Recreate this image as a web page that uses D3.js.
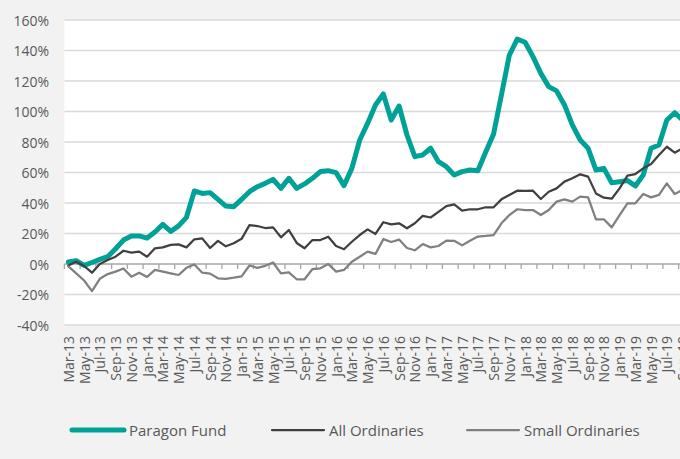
<!DOCTYPE html>
<html lang="en">
<head>
<meta charset="utf-8">
<title>Paragon Fund vs indices</title>
<script src="https://d3js.org/d3.v7.min.js"></script>
<style>
  body { margin: 0; background: #f2f2f2; }
  svg { display: block; font-family: "Open Sans", sans-serif; }
</style>
</head>
<body>
<div id="chart"></div>
<script>
// categories (monthly, Mar-13 .. Sep-19)
var months = [
  "Mar-13","Apr-13","May-13","Jun-13","Jul-13","Aug-13","Sep-13","Oct-13","Nov-13","Dec-13",
  "Jan-14","Feb-14","Mar-14","Apr-14","May-14","Jun-14","Jul-14","Aug-14","Sep-14","Oct-14","Nov-14","Dec-14",
  "Jan-15","Feb-15","Mar-15","Apr-15","May-15","Jun-15","Jul-15","Aug-15","Sep-15","Oct-15","Nov-15","Dec-15",
  "Jan-16","Feb-16","Mar-16","Apr-16","May-16","Jun-16","Jul-16","Aug-16","Sep-16","Oct-16","Nov-16","Dec-16",
  "Jan-17","Feb-17","Mar-17","Apr-17","May-17","Jun-17","Jul-17","Aug-17","Sep-17","Oct-17","Nov-17","Dec-17",
  "Jan-18","Feb-18","Mar-18","Apr-18","May-18","Jun-18","Jul-18","Aug-18","Sep-18","Oct-18","Nov-18","Dec-18",
  "Jan-19","Feb-19","Mar-19","Apr-19","May-19","Jun-19","Jul-19","Aug-19","Sep-19"
];

// cumulative return, %
var paragon = [
  1.3, 2.2, -0.9, 1, 3, 4.8, 10, 15.7, 18.4, 18.4,
  17, 21, 26, 21.4, 25, 30.6, 47.9, 46.3, 46.8, 42.4, 38, 37.6,
  42.4, 47.4, 50.7, 52.9, 55.5, 49.6, 56.2, 49.6, 52.5, 56.2, 60.6, 61.2,
  59.9, 51.4, 62.7, 81.3, 92.2, 104.3, 111.5, 94.4, 103.6, 84.6, 70.4, 71.5,
  75.9, 67.1, 63.8, 58.4, 60.6, 61.6, 61.2, 73.5, 85.3, 111, 137, 147.5,
  145.4, 136, 125, 116.3, 113.5, 104.3, 91.2, 81.3, 75.9, 61.6, 62.7, 53.3,
  54, 54.7, 51.2, 58.4, 75.9, 78, 94.4, 99.2, 94.4
];
var allOrds = [
  -1, 1.5, -1.3, -5.7, 0, 2.6, 4.8, 8.7, 7.4, 8.1,
  4.8, 10.3, 10.9, 12.5, 12.9, 10.9, 16.2, 16.8, 10.5, 15.2, 11.6, 13.6,
  16.5, 25.5, 24.9, 23.6, 24, 17.5, 22.3, 13.8, 10.3, 15.7, 15.7, 17.9,
  11.8, 9.7, 14.6, 19, 22.7, 19.7, 27.4, 26, 26.7, 23.4, 26.7, 31.6,
  30.5, 34.2, 38, 39.1, 35, 35.9, 35.9, 37.2, 37.2, 42.4, 45.3, 48.1,
  47.9, 48.1, 42.6, 47.4, 49.6, 54, 56.2, 58.8, 57.3, 46.3, 43.5, 42.8,
  49.6, 57.9, 59, 62.7, 65.6, 71.5, 76.9, 73, 75.9
];
var smallOrds = [
  -1.6, -6.1, -10.8, -17.8, -9.7, -6.6, -5, -3, -8.3, -5.7,
  -8.5, -3.9, -5, -6.1, -7.2, -2.5, -0.3, -5.7, -6.3, -9.4, -9.7, -9,
  -8.1, -1, -2.5, -1.2, 1, -6.1, -5.5, -10, -10, -3.3, -2.8, 0,
  -5, -3.9, 1.5, 4.8, 8.1, 6.6, 16.3, 14.4, 16, 10.5, 9, 13.1,
  10.9, 11.8, 15.3, 15.2, 12.2, 15.3, 18, 18.4, 19, 26.7, 32.1, 35.9,
  35.4, 35.4, 32.1, 35.4, 40.9, 42.4, 40.9, 44.2, 43.7, 29.3, 29.3, 24,
  32.1, 39.8, 39.8, 45.9, 43.7, 45.3, 52.9, 45.9, 48.5
];
var yTicks = [-40, -20, 0, 20, 40, 60, 80, 100, 120, 140, 160];

var series = [
  {name: "Paragon Fund", values: paragon, color: "#00a197", width: 5},
  {name: "All Ordinaries", values: allOrds, color: "#404040", width: 2.25},
  {name: "Small Ordinaries", values: smallOrds, color: "#808080", width: 2.25}
];

var W = 680, H = 459;
var plotLeft = 64.4, step = 7.875, plotTop = 20, plotBottom = 325;
var plotRight = plotLeft + months.length * step;

var svg = d3.select("#chart").append("svg")
  .attr("width", W).attr("height", H);

var x = d3.scaleBand()
  .domain(months)
  .range([plotLeft, plotRight])
  .padding(0);
var y = d3.scaleLinear()
  .domain([-40, 160])
  .range([plotBottom, plotTop]);

// plot area
svg.append("rect")
  .attr("x", plotLeft).attr("y", plotTop - 0.5)
  .attr("width", plotRight - plotLeft).attr("height", plotBottom - plotTop + 1)
  .attr("fill", "#ffffff");

// gridlines
svg.selectAll(".grid")
  .data(yTicks.filter(function(d) { return d !== 0; }))
  .enter().append("line")
    .attr("x1", plotLeft).attr("x2", plotRight)
    .attr("y1", function(d) { return y(d); })
    .attr("y2", function(d) { return y(d); })
    .attr("stroke", "#d9d9d9").attr("stroke-width", 1.3);

// y labels
svg.selectAll(".ylab")
  .data(yTicks)
  .enter().append("text")
    .attr("x", 49)
    .attr("y", function(d) { return y(d); })
    .attr("text-anchor", "end")
    .attr("dominant-baseline", "central")
    .attr("font-size", 14)
    .attr("fill", "#595959")
    .text(function(d) { return d + "%"; });

// zero axis + tick marks at category boundaries
var evenMonths = months.filter(function(d, i) { return i % 2 === 0; });
svg.append("line")
  .attr("x1", plotLeft).attr("x2", plotRight)
  .attr("y1", y(0)).attr("y2", y(0))
  .attr("stroke", "#a6a6a6").attr("stroke-width", 1.3);
svg.selectAll(".xtick")
  .data(evenMonths)
  .enter().append("line")
    .attr("x1", function(d) { return x(d); })
    .attr("x2", function(d) { return x(d); })
    .attr("y1", y(0)).attr("y2", y(0) + 5)
    .attr("stroke", "#a6a6a6").attr("stroke-width", 1.3);

// x labels
svg.selectAll(".xlab")
  .data(evenMonths)
  .enter().append("text")
    .attr("transform", function(d) {
      return "translate(" + (x(d) + x.bandwidth() / 2) + ",336) rotate(-90)";
    })
    .attr("text-anchor", "end")
    .attr("dominant-baseline", "central")
    .attr("font-size", 14)
    .attr("fill", "#595959")
    .text(function(d) { return d; });

// lines
var line = d3.line()
  .x(function(d, i) { return x(months[i]) + x.bandwidth() / 2; })
  .y(function(d) { return y(d); });

svg.selectAll(".series")
  .data(series)
  .enter().append("path")
    .attr("d", function(s) { return line(s.values); })
    .attr("fill", "none")
    .attr("stroke", function(s) { return s.color; })
    .attr("stroke-width", function(s) { return s.width; })
    .attr("stroke-linejoin", "round")
    .attr("stroke-linecap", "round");

// legend
var legendX = [72, 272, 467];
var leg = svg.selectAll(".legend")
  .data(series)
  .enter().append("g")
    .attr("transform", function(s, i) { return "translate(" + legendX[i] + ",430)"; });
leg.append("line")
  .attr("x1", 0).attr("x2", 52)
  .attr("stroke", function(s) { return s.color; })
  .attr("stroke-width", function(s) { return s.width; })
  .attr("stroke-linecap", "round");
leg.append("text")
  .attr("x", 57)
  .attr("dominant-baseline", "central")
  .attr("font-size", 15)
  .attr("fill", "#595959")
  .text(function(s) { return s.name; });
</script>
</body>
</html>
